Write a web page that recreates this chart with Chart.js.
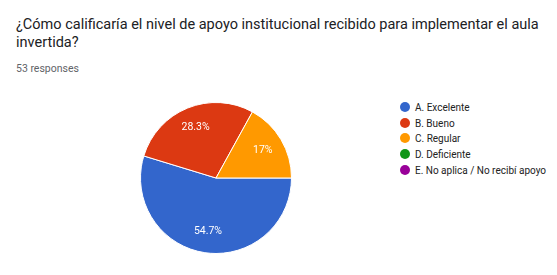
<!DOCTYPE html>
<html>
<head>
<meta charset="utf-8">
<script src="https://cdn.jsdelivr.net/npm/chart.js@4/dist/chart.umd.min.js"></script>
<style>
  html, body { margin: 0; padding: 0; background: #fff; }
  body { width: 557px; height: 275px; position: relative; overflow: hidden; font-family: Roboto, Arial, sans-serif; }
  #title { position: absolute; left: 16px; top: 15.5px; width: 530px; font-size: 14.5px; line-height: 18.5px; color: #202124; }
  #count { position: absolute; left: 16px; top: 62px; font-size: 10.5px; color: #5f6368; }
  #pie { position: absolute; left: 140px; top: 102px; }
  #legend { position: absolute; left: 400px; top: 100px; margin: 0; padding: 0; list-style: none; font-size: 10px; color: #222; }
  #legend li { height: 15.7px; line-height: 15.7px; white-space: nowrap; }
  #legend i { display: inline-block; width: 10px; height: 10px; border-radius: 50%; vertical-align: -1px; margin-right: 5px; }
</style>
</head>
<body>
<div id="title">¿Cómo calificaría el nivel de apoyo institucional recibido para implementar el aula invertida?</div>
<div id="count">53 responses</div>
<canvas id="pie" width="152" height="152"></canvas>
<ul id="legend"></ul>
<script>
const labels = ['A. Excelente', 'B. Bueno', 'C. Regular', 'D. Deficiente', 'E. No aplica / No recibí apoyo'];
const counts = [29, 15, 9, 0, 0];
const colors = ['#3366cc', '#dc3912', '#ff9900', '#109618', '#990099'];

const total = counts.reduce((a, b) => a + b, 0);

// legend
const legend = document.getElementById('legend');
labels.forEach((l, i) => {
  const li = document.createElement('li');
  li.innerHTML = `<i style="background:${colors[i]}"></i>${l}`;
  legend.appendChild(li);
});

// percent labels inside slices
const sliceLabels = {
  id: 'sliceLabels',
  afterDatasetsDraw(chart) {
    const ctx = chart.ctx;
    const meta = chart.getDatasetMeta(0);
    ctx.save();
    ctx.fillStyle = '#fff';
    ctx.font = '10.5px Roboto, Arial, sans-serif';
    ctx.textAlign = 'center';
    ctx.textBaseline = 'middle';
    meta.data.forEach((arc, i) => {
      if (!counts[i]) return;
      const p = arc.getProps(['x', 'y', 'startAngle', 'endAngle', 'outerRadius']);
      const mid = (p.startAngle + p.endAngle) / 2;
      const r = p.outerRadius * 0.72;
      const pct = Math.round(counts[i] / total * 1000) / 10;
      ctx.fillText(pct + '%', p.x + Math.cos(mid) * r, p.y + Math.sin(mid) * r);
    });
    ctx.restore();
  },
};

new Chart(document.getElementById('pie'), {
  type: 'pie',
  data: {
    labels,
    datasets: [{
      data: counts,
      backgroundColor: colors,
      borderColor: '#fff',
      borderWidth: 1,
    }],
  },
  options: {
    responsive: false,
    animation: false,
    rotation: 90,
    layout: { padding: 0 },
    plugins: {
      legend: { display: false },
      tooltip: { enabled: false },
    },
  },
  plugins: [sliceLabels],
});
</script>
</body>
</html>
